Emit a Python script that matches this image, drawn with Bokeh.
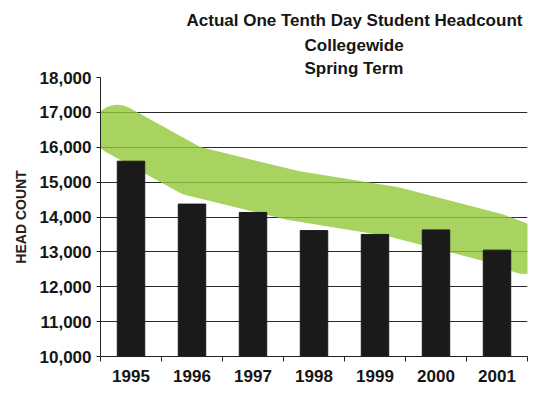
from bokeh.plotting import figure
from bokeh.models import Title, FixedTicker, NumeralTickFormatter, Range1d, ColumnDataSource
from bokeh.embed import file_html
from bokeh.resources import INLINE

years = ["1995", "1996", "1997", "1998", "1999", "2000", "2001"]
headcount = [15600, 14370, 14130, 13610, 13500, 13630, 13050]

# hand-drawn highlighter stroke (approximate path)
band_x = [-0.22, 0.99, 2.65, 4.30, 5.96, 6.45]
band_y = [16500, 15330, 14620, 14150, 13400, 13080]

y_ticks = [10000, 11000, 12000, 13000, 14000, 15000, 16000, 17000, 18000]
title_lines = ["Actual One Tenth Day Student Headcount", "Collegewide", "Spring Term"]

xpos = list(range(len(years)))
src = ColumnDataSource(dict(x=xpos, top=headcount))

p = figure(width=531, height=401, output_backend="svg", toolbar_location=None,
           x_range=Range1d(-0.5, len(years) - 0.5), y_range=Range1d(10000, 18000),
           min_border_left=100, min_border_right=4, min_border_bottom=45, min_border_top=77)
p.outline_line_color = None
p.background_fill_color = "white"

# title lines (added bottom-up); left-aligned with offsets so they centre near x=354
for txt, off, so in zip(reversed(title_lines), [204, 204, 86], [0, 4, 4]):
    p.add_layout(Title(text=txt, align="left", offset=off, standoff=so,
                       text_font="Liberation Sans", text_font_size="17px",
                       text_font_style="bold", text_color="#151515"), "above")

p.line(band_x, band_y, line_width=50, line_color="#92c83a", line_alpha=0.8,
       line_cap="round", line_join="round")
p.vbar(x="x", top="top", bottom=10000, width=0.45, source=src,
       fill_color="#1a1a1a", line_color="#1a1a1a")

# x axis
p.xaxis.ticker = FixedTicker(ticks=xpos, minor_ticks=[i - 0.5 for i in range(len(years) + 1)])
p.xaxis.major_label_overrides = {i: y for i, y in enumerate(years)}
p.xaxis.major_tick_out = 0
p.xaxis.major_tick_in = 0
p.xaxis.minor_tick_out = 5
p.xaxis.minor_tick_in = 0
p.xaxis.minor_tick_line_color = "#222"
p.xaxis.major_label_standoff = 8
p.xaxis.axis_line_color = "#222"

# y axis
p.yaxis.ticker = FixedTicker(ticks=y_ticks)
p.yaxis.formatter = NumeralTickFormatter(format="0,0")
p.yaxis.major_tick_out = 4
p.yaxis.major_tick_in = 0
p.yaxis.minor_tick_line_color = None
p.yaxis.major_label_standoff = 5
p.yaxis.axis_line_color = "#222"
p.yaxis.major_tick_line_color = "#222"
p.yaxis.axis_label = "HEAD COUNT"
p.yaxis.axis_label_text_font = "Liberation Sans"
p.yaxis.axis_label_text_font_size = "14px"
p.yaxis.axis_label_text_font_style = "bold"
p.yaxis.axis_label_text_color = "#222"
p.yaxis.axis_label_standoff = 8

for ax in (p.xaxis, p.yaxis):
    ax.major_label_text_font = "Liberation Sans"
    ax.major_label_text_font_size = "17px"
    ax.major_label_text_font_style = "bold"
    ax.major_label_text_color = "#151515"

p.xgrid.grid_line_color = None
p.ygrid.ticker = FixedTicker(ticks=y_ticks)
p.ygrid.grid_line_color = "#2a2a2a"
p.ygrid.grid_line_width = 1

open("out.html", "w").write(file_html(p, INLINE))
